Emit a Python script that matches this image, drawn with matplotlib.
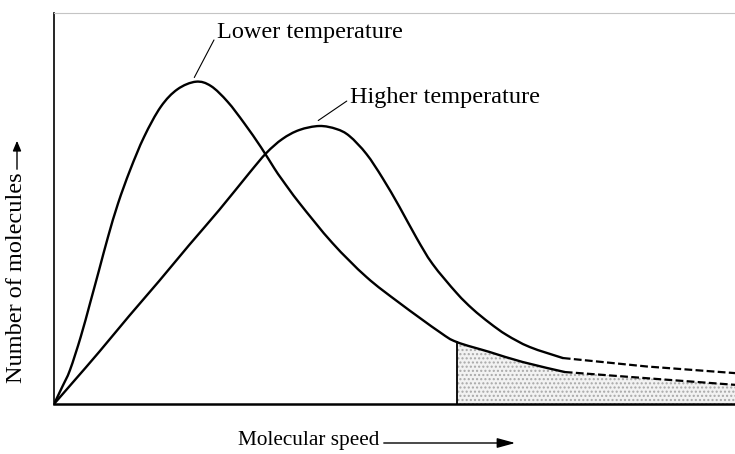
import matplotlib
matplotlib.use("Agg")
import matplotlib.pyplot as plt
from matplotlib.path import Path
from matplotlib.patches import PathPatch, FancyArrowPatch
import numpy as np

# Curves (speed and count in arbitrary units, 0..100)
low_speed = [0, 1.22, 2.35, 3.93, 5.29, 6.62, 7.94, 9.41, 11.18, 13.24, 15.69, 18.13,
             20.84, 23.04, 25.49, 27.94, 30.40, 32.35, 33.53, 36.03, 40.88, 45.88,
             50.74, 56.62, 59.12, 63.97, 68.82, 75.0]
low_count = [0, 4.42, 8.70, 17.21, 25.75, 34.27, 42.79, 51.33, 59.85, 68.36, 76.04, 80.49,
             82.43, 81.33, 77.31, 71.79, 65.65, 60.28, 57.29, 51.41, 41.18, 32.48,
             25.83, 18.41, 15.86, 13.30, 10.74, 8.18]
high_speed = [0, 2.94, 6.62, 11.03, 15.44, 19.85, 24.26, 28.68, 31.18, 33.53, 36.03,
              38.97, 41.47, 43.38, 45.88, 48.24, 50.74, 53.24, 55.59, 59.12, 61.47,
              63.97, 66.47, 69.85, 74.71]
high_count = [0, 5.88, 13.30, 22.51, 31.46, 40.66, 49.62, 59.08, 64.19, 67.77, 70.08,
              71.10, 70.33, 68.54, 63.94, 57.80, 50.38, 42.46, 35.81, 28.39, 24.30,
              20.72, 17.65, 14.58, 11.76]
# dashed tails
low_tail_speed = [75.0, 87.0, 100.0]
low_tail_count = [8.18, 6.6, 4.9]
high_tail_speed = [74.71, 87.0, 100.0]
high_tail_count = [11.76, 9.6, 7.9]
threshold_speed = 59.12

labels = {"low": "Lower temperature", "high": "Higher temperature",
          "x": "Molecular speed", "y": "Number of molecules"}

plt.rcParams['font.family'] = ['Liberation Serif', 'DejaVu Serif']
FS = 17.5
FSX = 15.3


def smooth_path(xs, ys):
    """Catmull-Rom curve through the given points, as cubic Bezier segments."""
    p = np.column_stack([xs, ys]).astype(float)
    n = len(p)
    verts = [p[0]]
    codes = [Path.MOVETO]
    for i in range(n - 1):
        p0 = p[i - 1] if i > 0 else p[i]
        p1, p2 = p[i], p[i + 1]
        p3 = p[i + 2] if i + 2 < n else p[i + 1]
        c1 = p1 + (p2 - p0) / 6.0
        c2 = p2 - (p3 - p1) / 6.0
        verts += [c1, c2, p2]
        codes += [Path.CURVE4] * 3
    return Path(verts, codes)


fig = plt.figure(figsize=(7.35, 4.54), dpi=100)
ax = fig.add_axes([54/735, 50/454, 1 - 54/735, 391/454])
ax.set_xlim(0, 100)
ax.set_ylim(0, 100)

# shaded region above threshold
sx = [s for s in low_speed if s >= threshold_speed] + low_tail_speed[1:]
sy = [c for s, c in zip(low_speed, low_count) if s >= threshold_speed] + low_tail_count[1:]
ax.fill_between(sx, 0, sy, facecolor='#f2f2f2', edgecolor='#a8a8a8', hatch='....', lw=0)
ax.plot([threshold_speed, threshold_speed], [0, low_count[low_speed.index(threshold_speed)]],
        color='black', lw=1.3)

for xs, ys in [(low_speed, low_count), (high_speed, high_count)]:
    ax.add_patch(PathPatch(smooth_path(xs, ys), fill=False, edgecolor='black', lw=1.7,
                           capstyle='round', joinstyle='round'))
ax.plot(low_tail_speed, low_tail_count, color='black', lw=1.6, ls=(0, (3.5, 1.5)))
ax.plot(high_tail_speed, high_tail_count, color='black', lw=1.6, ls=(0, (3.5, 1.5)))

# annotations
ax.annotate(labels["low"], xy=(20.6, 83.5), xytext=(23.9, 95.0),
            fontsize=FS, va='center', ha='left',
            arrowprops=dict(arrowstyle='-', color='black', lw=0.8, shrinkA=0, shrinkB=0,
                            relpos=(0, 0.4)))
ax.annotate(labels["high"], xy=(38.8, 72.5), xytext=(43.4, 78.5),
            fontsize=FS, va='center', ha='left',
            arrowprops=dict(arrowstyle='-', color='black', lw=0.8, shrinkA=0, shrinkB=0,
                            relpos=(0, 0.4)))

# frame
ax.spines['right'].set_visible(False)
ax.spines['top'].set_color('#c4c4c4')
ax.spines['top'].set_linewidth(0.8)
ax.spines['top'].set_linestyle((0, (2, 1)))
ax.spines['left'].set_linewidth(1.2)
ax.spines['bottom'].set_linewidth(1.8)
ax.set_xticks([])
ax.set_yticks([])

# axis labels with arrows
fig.text(379/735, 1 - 441/454, labels["x"], fontsize=FSX, ha='right', va='center')
fig.add_artist(FancyArrowPatch((381/735, 1 - 443/454), (518/735, 1 - 443/454),
               transform=fig.transFigure, arrowstyle='-|>,head_length=11,head_width=3',
               color='black', lw=1.0, mutation_scale=1))
fig.text(17/735, 1 - 383/454, labels["y"], fontsize=FS, ha='center', va='bottom', rotation=90)
fig.add_artist(FancyArrowPatch((17/735, 1 - 172/454), (17/735, 1 - 138/454),
               transform=fig.transFigure, arrowstyle='-|>,head_length=6,head_width=2.5',
               color='black', lw=1.0, mutation_scale=1))

fig.savefig('out.png', dpi=100)
